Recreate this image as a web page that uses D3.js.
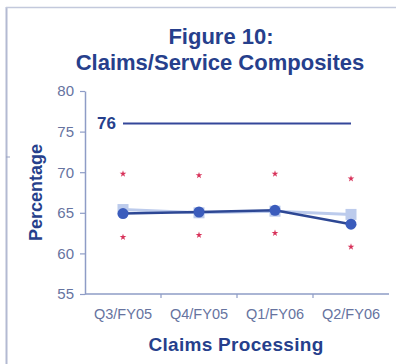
<!DOCTYPE html>
<html>
<head>
<meta charset="utf-8">
<script src="https://cdn.jsdelivr.net/npm/d3@7"></script>
<style>
  html, body { margin: 0; padding: 0; background: #fff; }
  svg { display: block; }
  text { font-family: Arial, "Liberation Sans", sans-serif; }
</style>
</head>
<body>
<script>
// Quarterly claims/service composite scores
const quarters = ["Q3/FY05", "Q4/FY05", "Q1/FY06", "Q2/FY06"];
const composite = [64.9, 65.1, 65.3, 63.6];
const prior = [65.4, 65.0, 65.2, 64.8];
const upperBound = [69.8, 69.6, 69.8, 69.2];
const lowerBound = [62.0, 62.25, 62.5, 60.8];
const goal = 76;
const yTicks = [55, 60, 65, 70, 75, 80];

const W = 396, H = 364;
const navy = "#263f8c";
const axisCol = "#8e9cc6";
const tickTextCol = "#66739f";

const svg = d3.select("body").append("svg")
  .attr("width", W).attr("height", H);

// outer frame (left and top edges)
svg.append("line").attr("x1", 6.5).attr("x2", 6.5).attr("y1", 7).attr("y2", H)
  .attr("stroke", "#b3bad2").attr("stroke-width", 2);
svg.append("line").attr("x1", 6).attr("x2", W).attr("y1", 7.5).attr("y2", 7.5)
  .attr("stroke", "#c3c9dc").attr("stroke-width", 1.5);
svg.append("line").attr("x1", 6).attr("x2", 10).attr("y1", 157).attr("y2", 157)
  .attr("stroke", "#9aa4c4").attr("stroke-width", 1);

// titles
svg.append("text").attr("x", 221).attr("y", 44).attr("text-anchor", "middle")
  .attr("font-size", 22).attr("font-weight", "bold").attr("fill", navy)
  .text("Figure 10:");
svg.append("text").attr("x", 220).attr("y", 70).attr("text-anchor", "middle")
  .attr("font-size", 22).attr("font-weight", "bold").attr("fill", navy)
  .text("Claims/Service Composites");

const x = d3.scaleBand().domain(quarters).range([85, 389]);
const y = d3.scaleLinear().domain([55, 80]).range([294, 91]);
const cx = d => x(d) + x.bandwidth() / 2;

// y axis
const yAxis = svg.append("g").attr("transform", "translate(85,0)")
  .call(d3.axisLeft(y).tickValues(yTicks).tickSize(5).tickPadding(6).tickSizeOuter(0));
yAxis.select(".domain").attr("stroke", axisCol).attr("stroke-width", 1.5);
yAxis.selectAll(".tick line").attr("stroke", axisCol).attr("stroke-width", 1.2);
yAxis.selectAll(".tick text").attr("font-size", 15).attr("fill", tickTextCol)
  .attr("font-family", "Arial, 'Liberation Sans', sans-serif");

// x axis with ticks on the category boundaries
const xAxisG = svg.append("g").attr("transform", "translate(0,294)");
xAxisG.append("line").attr("x1", 85).attr("x2", 389).attr("y1", 0).attr("y2", 0)
  .attr("stroke", axisCol).attr("stroke-width", 1.5);
xAxisG.selectAll("line.tk").data(quarters.slice(1)).join("line").attr("class", "tk")
  .attr("x1", d => x(d)).attr("x2", d => x(d)).attr("y1", 0).attr("y2", 4)
  .attr("stroke", axisCol).attr("stroke-width", 1.2);
xAxisG.selectAll("text").data(quarters).join("text")
  .attr("x", d => cx(d)).attr("y", 25).attr("text-anchor", "middle")
  .attr("font-size", 14.5).attr("fill", tickTextCol).text(d => d);

// axis titles
svg.append("text").attr("transform", `translate(42,${y(67.5)}) rotate(-90)`)
  .attr("text-anchor", "middle").attr("font-size", 18).attr("font-weight", "bold")
  .attr("fill", navy).text("Percentage");
svg.append("text").attr("x", 236).attr("y", 351).attr("text-anchor", "middle")
  .attr("font-size", 19).attr("font-weight", "bold").attr("fill", navy)
  .attr("letter-spacing", 0.3).text("Claims Processing");

// goal line
svg.append("line").attr("x1", cx(quarters[0])).attr("x2", cx(quarters[3]))
  .attr("y1", y(goal)).attr("y2", y(goal))
  .attr("stroke", "#34479a").attr("stroke-width", 2);
svg.append("text").attr("x", cx(quarters[0]) - 7).attr("y", y(goal) + 6)
  .attr("text-anchor", "end").attr("font-size", 17).attr("font-weight", "bold")
  .attr("fill", navy).text(goal);

// confidence bounds
const star = d3.symbol().type(d3.symbolStar).size(14);
[upperBound, lowerBound].forEach(arr => {
  svg.selectAll(null).data(arr).join("path")
    .attr("d", star)
    .attr("transform", (d, i) => `translate(${cx(quarters[i])},${y(d)})`)
    .attr("fill", "#d8325a");
});

// prior-year series
const line = d3.line().x((d, i) => cx(quarters[i])).y(d => y(d));
svg.append("path").datum(prior).attr("d", line)
  .attr("fill", "none").attr("stroke", "#bccbec").attr("stroke-width", 3);
svg.selectAll(null).data(prior).join("rect")
  .attr("x", (d, i) => cx(quarters[i]) - 5.5).attr("y", d => y(d) - 5.5)
  .attr("width", 11).attr("height", 11).attr("fill", "#bccbec");

// current composite series
svg.append("path").datum(composite).attr("d", line)
  .attr("fill", "none").attr("stroke", "#2d4794").attr("stroke-width", 2.5);
svg.selectAll(null).data(composite).join("circle")
  .attr("cx", (d, i) => cx(quarters[i])).attr("cy", d => y(d)).attr("r", 5.5)
  .attr("fill", "#3b5cbc");
</script>
</body>
</html>
